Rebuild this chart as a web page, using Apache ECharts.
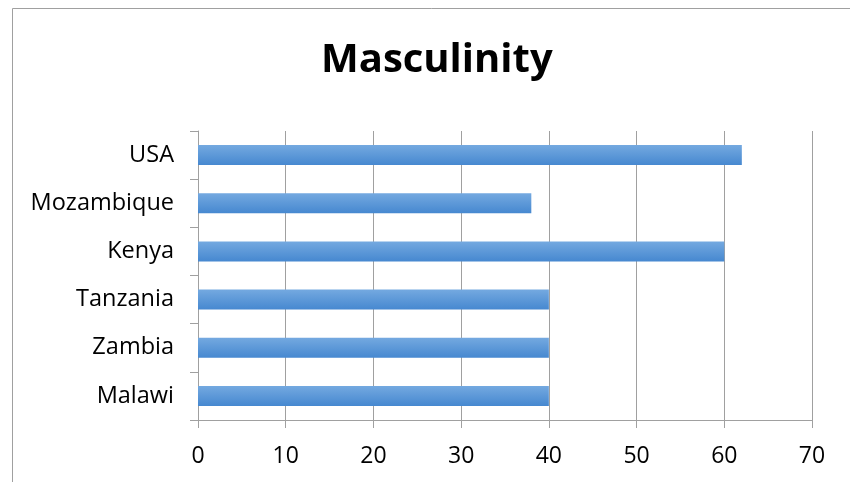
<!DOCTYPE html>
<html>
<head>
<meta charset="utf-8">
<script src="https://cdn.jsdelivr.net/npm/echarts@6/dist/echarts.min.js"></script>
<style>
  html, body { margin: 0; padding: 0; background: #ffffff; }
  #chart { width: 850px; height: 482px; }
</style>
</head>
<body>
<div id="chart"></div>
<script>
// Countries listed bottom-to-top as the category axis runs upward
const countries = ['Malawi', 'Zambia', 'Tanzania', 'Kenya', 'Mozambique', 'USA'];
const masculinity = [40, 40, 40, 60, 38, 62];
const valueTicks = { min: 0, max: 70, interval: 10 };

const FONT = '"Open Sans", "Noto Sans", sans-serif';
const chart = echarts.init(document.getElementById('chart'), null, { renderer: 'canvas' });

chart.setOption({
  backgroundColor: '#ffffff',
  animation: false,
  title: {
    text: 'Masculinity',
    left: 321,
    top: 41,
    padding: 0,
    textStyle: { fontFamily: FONT, fontSize: 40, fontWeight: 'bold', color: '#000000' }
  },
  graphic: [{
    type: 'rect',
    shape: { x: 12.5, y: 8.5, width: 900, height: 600 },
    style: { fill: 'none', stroke: '#a0a0a0', lineWidth: 1 },
    silent: true,
    z: -1
  }],
  grid: { left: 198, right: 38, top: 131, bottom: 62, containLabel: false },
  xAxis: {
    type: 'value',
    min: valueTicks.min,
    max: valueTicks.max,
    interval: valueTicks.interval,
    axisLine: { show: true, lineStyle: { color: '#a0a0a0', width: 1 } },
    axisTick: { show: true, length: 8, lineStyle: { color: '#a0a0a0' } },
    axisLabel: { fontFamily: FONT, fontSize: 23, color: '#000000', margin: 25 },
    splitLine: { show: true, lineStyle: { color: '#a0a0a0', width: 1 } }
  },
  yAxis: {
    type: 'category',
    data: countries,
    axisLine: { show: true, lineStyle: { color: '#a0a0a0', width: 1 } },
    axisTick: { show: true, length: 8, lineStyle: { color: '#a0a0a0' } },
    axisLabel: { fontFamily: FONT, fontSize: 23.5, color: '#000000', margin: 24, padding: [3, 0, 0, 0] },
    splitLine: { show: false }
  },
  series: [{
    type: 'bar',
    data: masculinity,
    barWidth: 20,
    itemStyle: {
      color: new echarts.graphic.LinearGradient(0, 0, 0, 1, [
        { offset: 0, color: '#74a9e0' },
        { offset: 1, color: '#4688d0' }
      ])
    }
  }]
});
</script>
</body>
</html>
